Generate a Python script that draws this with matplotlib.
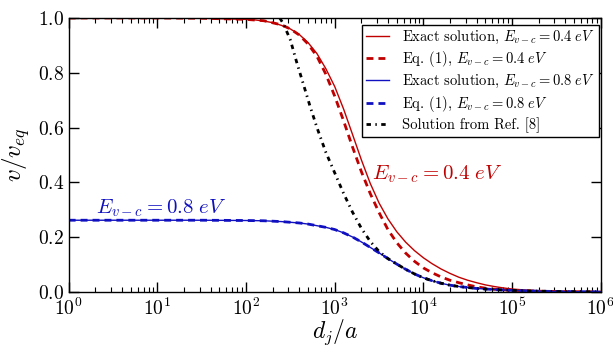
import numpy as np
import matplotlib
matplotlib.use("Agg")
import matplotlib.pyplot as plt
from matplotlib.ticker import FuncFormatter, FixedLocator, LogLocator, NullFormatter

plt.rcParams['mathtext.fontset'] = 'cm'
plt.rcParams['font.family'] = ['cmr10', 'DejaVu Serif']
plt.rcParams['axes.unicode_minus'] = False

# log10(d_j/a) positions and v/v_eq values
red_exact_logx = [0, 1, 1.5, 2.0, 2.1, 2.2, 2.3, 2.4, 2.5, 2.6, 2.7, 2.8, 2.9, 3.0, 3.1, 3.2, 3.3,
                  3.4, 3.5, 3.6, 3.7, 3.8, 3.9, 4.0, 4.1, 4.2, 4.3, 4.4, 4.5, 4.6, 4.7, 4.8,
                  4.9, 5.0, 5.2, 5.4, 5.7, 6.0]
red_exact_v = [1.0, 1.0, 0.999, 0.995, 0.993, 0.989, 0.983, 0.973, 0.96, 0.94, 0.91, 0.87, 0.815,
               0.75, 0.668, 0.576, 0.483, 0.397, 0.325, 0.267, 0.220, 0.182, 0.151, 0.125, 0.103,
               0.084, 0.068, 0.054, 0.043, 0.034, 0.026, 0.020, 0.015, 0.011, 0.006, 0.0035,
               0.0015, 0.0007]

red_eq1_logx = [0, 1, 1.5, 2.0, 2.2, 2.4, 2.5, 2.6, 2.7, 2.8, 2.9, 3.0, 3.1, 3.2, 3.3, 3.4, 3.5,
                3.6, 3.7, 3.8, 3.9, 4.0, 4.1, 4.2, 4.3, 4.4, 4.5, 4.6, 4.7, 4.8, 5.0, 5.3, 5.6, 6.0]
red_eq1_v = [1.0, 1.0, 0.999, 0.995, 0.99, 0.975, 0.96, 0.938, 0.905, 0.86, 0.795, 0.715, 0.625,
             0.53, 0.44, 0.36, 0.29, 0.228, 0.18, 0.142, 0.112, 0.088, 0.070, 0.055, 0.043,
             0.034, 0.026, 0.019, 0.014, 0.010, 0.006, 0.003, 0.0015, 0.0005]

blue_logx = [0, 1, 1.5, 2.0, 2.2, 2.4, 2.6, 2.7, 2.8, 2.9, 3.0, 3.1, 3.2, 3.3, 3.4, 3.5, 3.6,
             3.7, 3.8, 3.9, 4.0, 4.1, 4.2, 4.3, 4.4, 4.6, 4.8, 5.0, 5.3, 5.6, 6.0]
blue_v = [0.262, 0.262, 0.262, 0.261, 0.26, 0.257, 0.252, 0.248, 0.242, 0.236, 0.228, 0.216,
          0.201, 0.183, 0.163, 0.143, 0.122, 0.102, 0.083, 0.066, 0.052, 0.041, 0.032, 0.025,
          0.020, 0.013, 0.009, 0.006, 0.003, 0.0015, 0.0007]

ref8_logx = [2.38, 2.42, 2.5, 2.57, 2.65, 2.72, 2.8, 2.9, 3.0, 3.1, 3.2, 3.3, 3.4, 3.5, 3.6,
             3.7, 3.8, 3.9, 4.0, 4.1, 4.2, 4.3, 4.4, 4.6, 4.8, 5.0, 5.3, 5.6, 6.0]
ref8_v = [1.0, 0.98, 0.92, 0.84, 0.755, 0.68, 0.60, 0.51, 0.435, 0.36, 0.292, 0.233, 0.185,
          0.148, 0.122, 0.102, 0.083, 0.066, 0.052, 0.041, 0.032, 0.025, 0.020, 0.013, 0.009,
          0.006, 0.003, 0.0015, 0.0007]

labels = [r'Exact solution, $E_{v-c}=0.4\ eV$',
          r'Eq. (1), $E_{v-c}=0.4\ eV$',
          r'Exact solution, $E_{v-c}=0.8\ eV$',
          r'Eq. (1), $E_{v-c}=0.8\ eV$',
          r'Solution from Ref. [8]']

RED = '#c00000'
BLUE = '#1010c0'

fig = plt.figure(figsize=(6.13, 3.46), dpi=100)
ax = fig.add_axes([0.112, 0.156, 0.868, 0.792])

ax.plot(10 ** np.array(red_exact_logx), red_exact_v, color=RED, lw=1.0, label=labels[0])
ax.plot(10 ** np.array(red_eq1_logx), red_eq1_v, color=RED, lw=2.0, ls=(0, (2.5, 1.8)), label=labels[1])
ax.plot(10 ** np.array(blue_logx), blue_v, color=BLUE, lw=1.0, label=labels[2])
ax.plot(10 ** np.array(blue_logx), blue_v, color=BLUE, lw=2.0, ls=(0, (2.5, 1.8)), label=labels[3])
ax.plot(10 ** np.array(ref8_logx), ref8_v, color='black', lw=2.0, ls=(0, (1.6, 1.6, 0.5, 1.6)), label=labels[4])

ax.set_xscale('log')
ax.set_xlim(1, 1e6)
ax.set_ylim(0, 1.0)

ax.xaxis.set_major_locator(FixedLocator([10 ** k for k in range(7)]))
ax.xaxis.set_major_formatter(FuncFormatter(lambda v, p: r'$10^{%d}$' % int(round(np.log10(v)))))
ax.xaxis.set_minor_locator(LogLocator(base=10, subs=np.arange(2, 10), numticks=20))
ax.xaxis.set_minor_formatter(NullFormatter())
ax.set_yticks([0.0, 0.2, 0.4, 0.6, 0.8, 1.0])
ax.yaxis.set_major_formatter(FuncFormatter(lambda v, p: r'$%.1f$' % v))

ax.tick_params(which='both', direction='in', top=True, right=True, labelsize=14)
ax.tick_params(which='major', length=7, width=1)
ax.tick_params(which='minor', length=3.5, width=0.8)
ax.tick_params(axis='x', pad=4)
for s in ax.spines.values():
    s.set_linewidth(1.0)

ax.set_xlabel(r'$d_j/a$', fontsize=17, labelpad=-1)
ax.set_ylabel(r'$v/v_{eq}$', fontsize=18, labelpad=4)

ax.text(2.04, 0.288, r'$E_{v-c}=0.8\ eV$', color=BLUE, fontsize=15, ha='left', va='baseline')
ax.text(2620, 0.409, r'$E_{v-c}=0.4\ eV$', color=RED, fontsize=15, ha='left', va='baseline')

leg = ax.legend(loc='upper right', bbox_to_anchor=(0.996, 0.974), borderaxespad=0,
                prop={'family': ['cmr10', 'DejaVu Serif'], 'size': 10.5},
                fancybox=False, edgecolor='black', framealpha=1,
                handlelength=1.6, labelspacing=0.25, handletextpad=0.9, borderpad=0.25)
leg.get_frame().set_linewidth(1.0)

fig.savefig('out.png', dpi=100)
